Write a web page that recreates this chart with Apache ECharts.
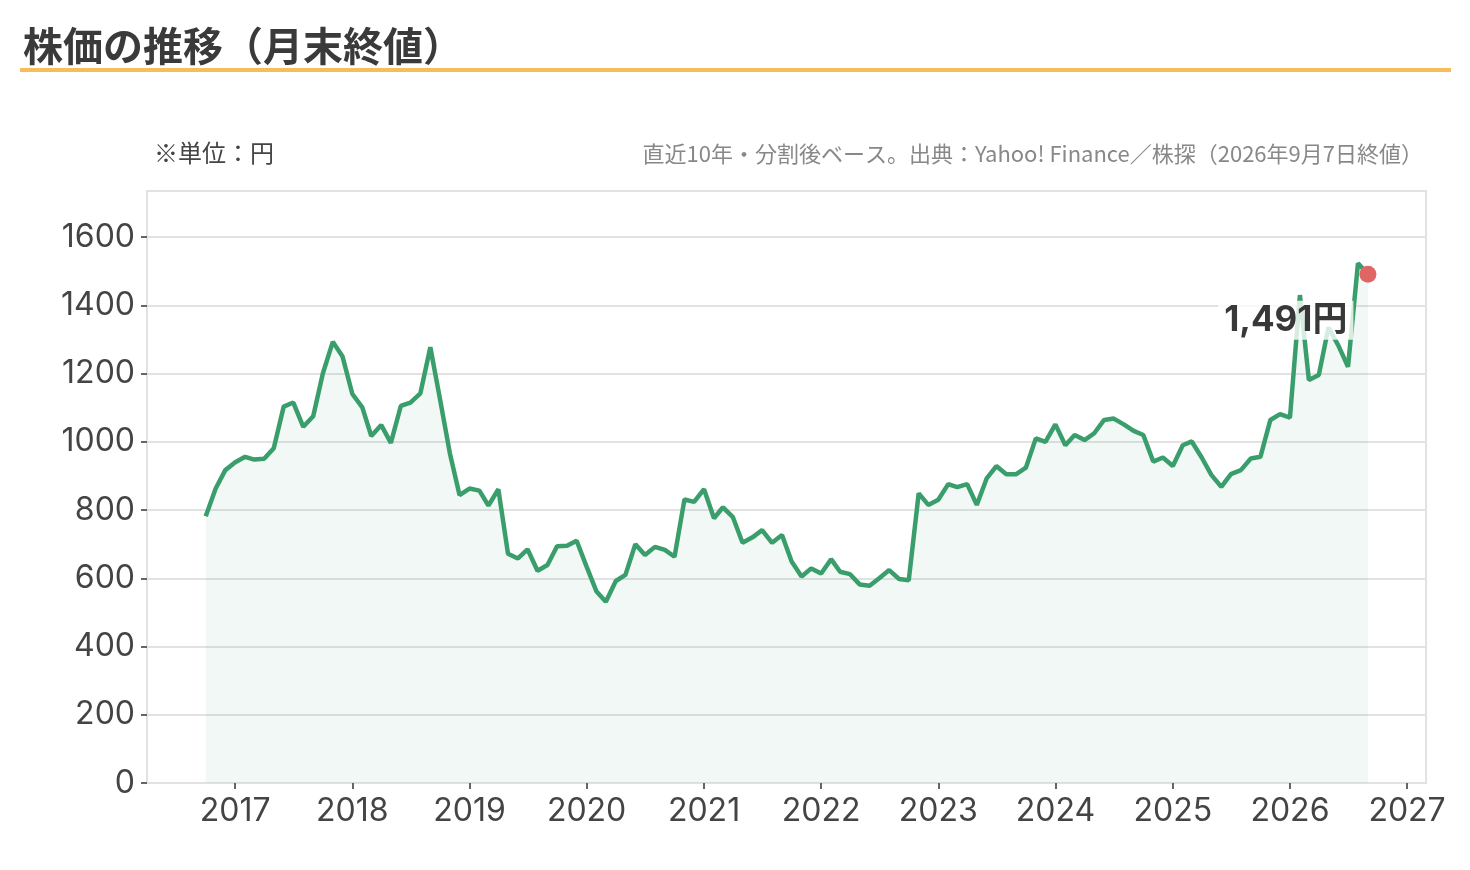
<!DOCTYPE html>
<html lang="ja">
<head>
<meta charset="utf-8">
<title>株価の推移（月末終値）</title>
<script src="https://cdn.jsdelivr.net/npm/echarts@6/dist/echarts.min.js"></script>
<style>
  html, body { margin: 0; padding: 0; background: #fff; }
  #chart { width: 1470px; height: 870px; }
</style>
</head>
<body>
<div id="chart"></div>
<script>
// 月末（月初日付で表示）
const months = [
  '2016-10', '2016-11', '2016-12',
  '2017-01', '2017-02', '2017-03', '2017-04', '2017-05', '2017-06', '2017-07', '2017-08', '2017-09', '2017-10', '2017-11', '2017-12',
  '2018-01', '2018-02', '2018-03', '2018-04', '2018-05', '2018-06', '2018-07', '2018-08', '2018-09', '2018-10', '2018-11', '2018-12',
  '2019-01', '2019-02', '2019-03', '2019-04', '2019-05', '2019-06', '2019-07', '2019-08', '2019-09', '2019-10', '2019-11', '2019-12',
  '2020-01', '2020-02', '2020-03', '2020-04', '2020-05', '2020-06', '2020-07', '2020-08', '2020-09', '2020-10', '2020-11', '2020-12',
  '2021-01', '2021-02', '2021-03', '2021-04', '2021-05', '2021-06', '2021-07', '2021-08', '2021-09', '2021-10', '2021-11', '2021-12',
  '2022-01', '2022-02', '2022-03', '2022-04', '2022-05', '2022-06', '2022-07', '2022-08', '2022-09', '2022-10', '2022-11', '2022-12',
  '2023-01', '2023-02', '2023-03', '2023-04', '2023-05', '2023-06', '2023-07', '2023-08', '2023-09', '2023-10', '2023-11', '2023-12',
  '2024-01', '2024-02', '2024-03', '2024-04', '2024-05', '2024-06', '2024-07', '2024-08', '2024-09', '2024-10', '2024-11', '2024-12',
  '2025-01', '2025-02', '2025-03', '2025-04', '2025-05', '2025-06', '2025-07', '2025-08', '2025-09', '2025-10', '2025-11', '2025-12',
  '2026-01', '2026-02', '2026-03', '2026-04', '2026-05', '2026-06', '2026-07', '2026-08', '2026-09',
]

// 月末終値（円）
const close = [
  782, 863, 917,
  940, 956, 948, 950, 981, 1103, 1115, 1044, 1075, 1200, 1293, 1251,
  1140, 1101, 1017, 1049, 997, 1105, 1115, 1142, 1277, 1126, 966, 844,
  863, 857, 813, 861, 672, 658, 685, 622, 639, 694, 695, 710,
  634, 561, 531, 592, 610, 700, 668, 692, 683, 663, 831, 824,
  861, 776, 808, 779, 704, 720, 741, 704, 727, 649, 605, 629,
  614, 656, 619, 612, 582, 578, 600, 624, 598, 594, 849, 815,
  830, 876, 867, 876, 815, 893, 929, 905, 905, 924, 1010, 1000,
  1051, 990, 1020, 1005, 1025, 1064, 1068, 1051, 1032, 1020, 942, 954,
  929, 990, 1001, 954, 903, 868, 905, 917, 951, 956, 1064, 1081,
  1071, 1430, 1181, 1196, 1335, 1282, 1220, 1523, 1491,
]

const yTicks = [0, 200, 400, 600, 800, 1000, 1200, 1400, 1600]
const xYears = [2017, 2018, 2019, 2020, 2021, 2022, 2023, 2024, 2025, 2026, 2027]

const toTime = (ym) => {
  const [y, m] = ym.split('-').map(Number)
  return new Date(y, m - 1, 1).getTime()
}

const lineData = months.map((m, i) => [toTime(m), close[i]])
const last = lineData[lineData.length - 1]
const yearTicks = xYears.map((y) => new Date(y, 0, 1).getTime())

const fontFamily = '"Noto Sans CJK JP", "Noto Sans", sans-serif'
const numFont = 'Inter, "Noto Sans CJK JP", sans-serif'

echarts.init(document.getElementById('chart')).setOption({
  backgroundColor: '#fff',
  animation: false,
  textStyle: { fontFamily },
  title: [
    {
      text: '株価の推移（月末終値）',
      left: 18,
      top: 21,
      textStyle: { fontSize: 40, fontWeight: 'bold', color: '#3a3a3a', fontFamily },
    },
    {
      text: '※単位：円',
      left: 149,
      top: 136,
      textStyle: { fontSize: 24, fontWeight: 'normal', color: '#444', fontFamily },
    },
    {
      text: '直近10年・分割後ベース。出典：Yahoo! Finance／株探（2026年9月7日終値）',
      right: 42,
      top: 138,
      textStyle: { fontSize: 22, fontWeight: 'normal', color: '#888', fontFamily },
    },
  ],
  graphic: [
    {
      type: 'rect',
      left: 20,
      top: 68,
      shape: { width: 1431, height: 4 },
      style: { fill: '#f5be5b' },
    },
  ],
  grid: {
    left: 147,
    right: 44,
    top: 191,
    bottom: 87,
    show: true,
    borderColor: '#e2e2e2',
    borderWidth: 2,
  },
  xAxis: {
    type: 'value',
    min: toTime('2016-04'),
    max: toTime('2027-03'),
    axisLine: { show: true, lineStyle: { color: '#e2e2e2', width: 2 } },
    axisTick: {
      show: true,
      length: 6,
      lineStyle: { color: '#666', width: 2 },
      customValues: yearTicks,
    },
    axisLabel: {
      fontSize: 32,
      fontFamily: numFont,
      color: '#444',
      margin: 12,
      customValues: yearTicks,
      formatter: (val) => String(new Date(val).getFullYear()),
    },
    splitLine: { show: false },
  },
  yAxis: {
    type: 'value',
    min: 0,
    max: 1735,
    axisLine: { show: false },
    axisTick: {
      show: true,
      length: 6,
      lineStyle: { color: '#666', width: 2 },
      customValues: yTicks,
    },
    axisLabel: {
      fontSize: 32,
      fontFamily: numFont,
      color: '#444',
      margin: 12,
      customValues: yTicks,
      formatter: (val) => String(val),
    },
    splitLine: { show: true, lineStyle: { color: '#e2e2e2', width: 2 } },
  },
  series: [
    {
      name: '終値',
      type: 'line',
      data: lineData,
      showSymbol: false,
      symbol: 'none',
      lineStyle: { color: '#3a9e6c', width: 4.5 },
      itemStyle: { color: '#3a9e6c' },
      areaStyle: { color: 'rgba(58,158,108,0.1)' },
      z: 2,
    },
    {
      name: '最新',
      type: 'scatter',
      data: [last],
      symbolSize: 17,
      itemStyle: { color: '#e06666', opacity: 1 },
      z: 3,
      label: {
        show: true,
        position: 'left',
        distance: 6,
        offset: [0, 46],
        formatter: (p) => p.value[1].toLocaleString('ja-JP') + '円',
        fontSize: 35,
        fontWeight: 'bold',
        color: '#383838',
        fontFamily: numFont,
        backgroundColor: 'rgba(255,255,255,0.8)',
        padding: [2, 6],
      },
    },
  ],
})
</script>
</body>
</html>
